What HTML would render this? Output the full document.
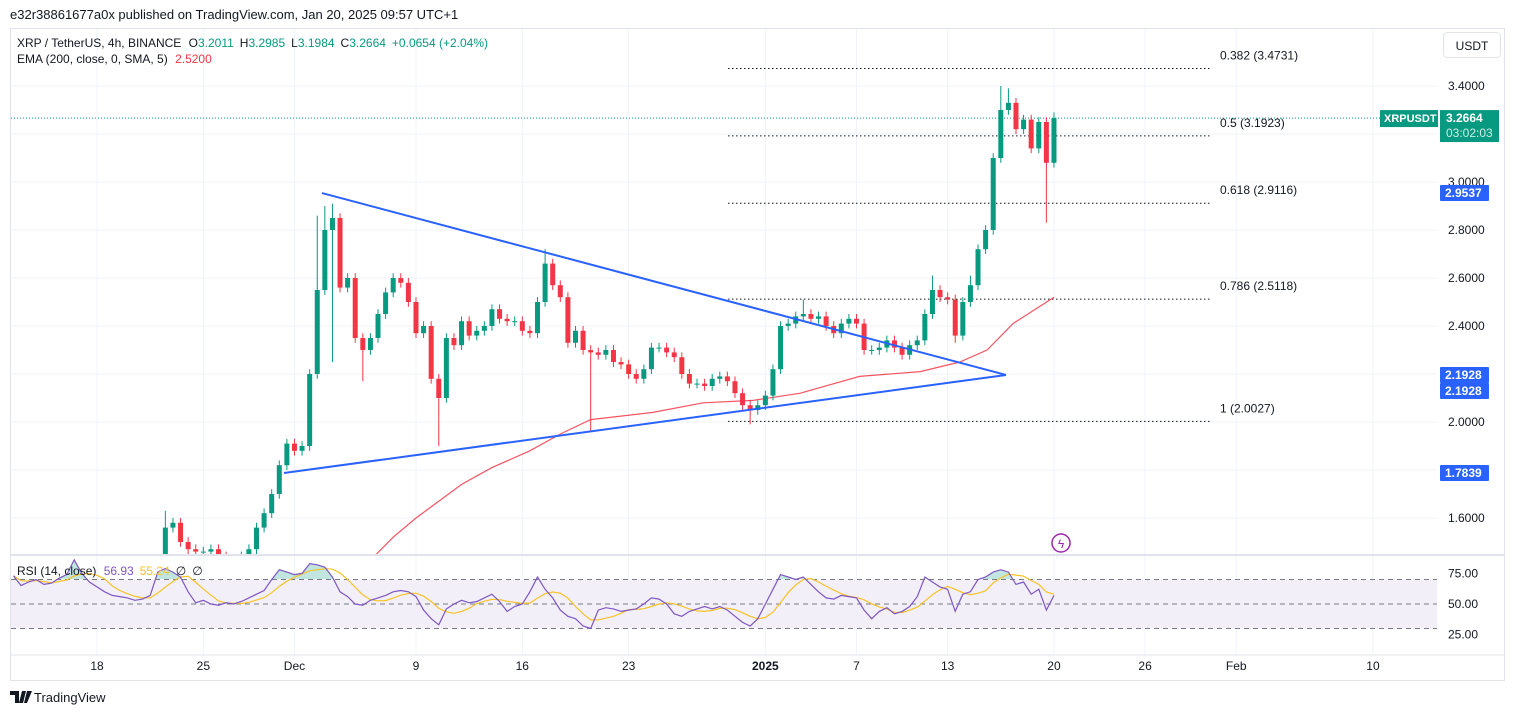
<!DOCTYPE html>
<html><head><meta charset="utf-8">
<style>
body{margin:0;background:#fff;width:1515px;height:715px;overflow:hidden;font-family:"Liberation Sans",sans-serif;}
svg{display:block}
text{font-family:"Liberation Sans",sans-serif;}
</style></head>
<body>
<svg id="chart" width="1515" height="715" viewBox="0 0 1515 715" xmlns="http://www.w3.org/2000/svg">
<text x="10" y="19" font-size="13" fill="#131722">e32r38861677a0x published on TradingView.com, Jan 20, 2025 09:57 UTC+1</text>
<rect x="10.5" y="28.5" width="1494" height="652" fill="#fff" stroke="#e0e3eb"/>
<g id="grid"></g>
<g id="rsiPane"></g>
<g id="main" clip-path="url(#mainClip)"></g>
<defs>
<clipPath id="mainClip"><rect x="11" y="29" width="1426" height="525"/></clipPath>
<clipPath id="rsiClip"><rect x="11" y="556" width="1426" height="98"/></clipPath>
<clipPath id="ob"><rect x="0" y="0" width="1515" height="579"/></clipPath>
</defs>
<line x1="10" y1="555" x2="1505" y2="555" stroke="#e0e3eb" stroke-width="2"/>
<line x1="10" y1="655" x2="1505" y2="655" stroke="#e0e3eb"/>
<g id="axes"></g>
<text x="17" y="47" font-size="12" fill="#131722">XRP / TetherUS, 4h, BINANCE <tspan dx="4">O</tspan><tspan fill="#089981">3.2011</tspan><tspan dx="6">H</tspan><tspan fill="#089981">3.2985</tspan><tspan dx="6">L</tspan><tspan fill="#089981">3.1984</tspan><tspan dx="6">C</tspan><tspan fill="#089981">3.2664</tspan><tspan dx="6" fill="#089981">+0.0654 (+2.04%)</tspan></text>
<text x="17" y="63" font-size="12" fill="#131722">EMA (200, close, 0, SMA, 5) <tspan dx="4" fill="#f23645">2.5200</tspan></text>
<text x="17" y="575" font-size="12" fill="#131722">RSI (14, close) <tspan dx="4" fill="#7e57c2">56.93</tspan><tspan dx="6" fill="#f7c325">55.24</tspan><tspan dx="6">∅</tspan><tspan dx="6">∅</tspan></text>
<rect x="1443.5" y="32.5" width="57" height="25" rx="4" fill="#fff" stroke="#e0e3eb"/>
<text x="1472" y="50" font-size="12" text-anchor="middle" fill="#131722">USDT</text>
<circle cx="1061" cy="543" r="9" fill="#fff" stroke="#9c27b0" stroke-width="1.5"/>
<text x="1061" y="548" font-size="12" text-anchor="middle" fill="#9c27b0">ϟ</text>
<g>
<path d="M10 691h9v12h-4v-8h-5z M22 691h4l-3 12h-4z M27 691h5l-5 12h-3z" fill="#131722"/>
<text x="34" y="702" font-size="13" fill="#131722">TradingView</text>
</g>
</svg>
<script>
var candleT=[-5.5,-5,-4.5,-4,-3.5,-3,-2.5,-2,-1.5,-1,-0.5,0,0.5,1,1.5,2,2.5,3,3.5,4,4.5,5,5.5,6,6.5,7,7.5,8,8.5,9,9.5,10,10.5,11,11.5,12,12.5,13,13.5,14,14.5,15,15.5,16,16.5,17,17.5,18,18.5,19,19.5,20,20.5,21,21.5,22,22.5,23,23.5,24,24.5,25,25.5,26,26.5,27,27.5,28,28.5,29,29.5,30,30.5,31,31.5,32,32.5,33,33.5,34,34.5,35,35.5,36,36.5,37,37.5,38,38.5,39,39.5,40,40.5,41,41.5,42,42.5,43,43.5,44,44.5,45,45.5,46,46.5,47,47.5,48,48.5,49,49.5,50,50.5,51,51.5,52,52.5,53,53.5,54,54.5,55,55.5,56,56.5,57,57.5,58,58.5,59,59.5,60,60.5,61,61.5,62,62.5,63];
var closes=[1.15,1.12,1.10,1.13,1.12,1.15,1.18,1.14,1.10,1.08,1.11,1.14,1.16,1.20,1.25,1.30,1.36,1.40,1.38,1.42,
1.56,1.58,1.50,1.47,1.46,1.46,1.47,1.44,1.43,1.42,1.44,1.47,1.56,1.62,1.70,1.82,1.91,1.88,1.90,2.20,2.55,2.80,2.85,2.56,2.60,2.35,2.30,2.35,2.45,2.54,2.60,2.58,2.50,2.37,2.40,2.18,2.10,2.35,2.32,2.42,2.36,2.38,2.40,2.47,2.43,2.42,2.42,2.38,2.37,2.50,2.66,2.57,2.52,2.33,2.38,2.30,2.29,2.28,2.30,2.25,2.24,2.20,2.18,2.22,2.31,2.31,2.29,2.27,2.20,2.16,2.16,2.15,2.18,2.19,2.17,2.12,2.07,2.05,2.07,2.11,2.22,2.40,2.41,2.44,2.45,2.43,2.44,2.40,2.37,2.41,2.43,2.41,2.30,2.30,2.31,2.34,2.31,2.28,2.32,2.34,2.45,2.55,2.52,2.51,2.36,2.50,2.57,2.72,2.80,3.10,3.30,3.33,3.22,3.26,3.14,3.25,3.08,3.2664];
var wickHighT=[4.5,14.5,15.0,15.5,29.5,46.5,55.0,57.5,59.5,60.0,63];
var wickHighV=[1.63,2.86,2.90,2.91,2.72,2.51,2.61,2.61,3.40,3.39,3.29];
var wickLowT=[15.5,17.5,22.5,32.5,43.0,56.5,62.5];
var wickLowV=[2.25,2.17,1.90,1.96,1.99,2.33,2.83];
var emaT=[17.0,18.4,19.5,21.0,24.0,26.0,28.5,30.5,32.5,36.6,39.9,43.2,46.3,50.2,54.2,56.8,58.6,60.3,63.0];
var emaV=[1.40,1.45,1.52,1.60,1.74,1.81,1.88,1.95,2.01,2.04,2.08,2.09,2.12,2.19,2.21,2.25,2.30,2.41,2.52];
var rsiValues=[73,65,68,70,66,67,71,74,86,75,68,64,60,57,56,55,53,54,57,76,79,76,72,60,51,53,50,49,51,50,52,55,58,61,70,78,76,74,75,83,82,80,72,60,56,50,49,53,55,57,60,61,60,56,45,38,33,46,50,53,51,52,55,58,
52,44,48,50,60,72,62,55,45,40,38,32,30,45,47,46,44,45,46,50,55,54,50,42,40,44,46,48,46,48,45,40,35,32,38,50,62,74,72,70,72,66,60,55,54,57,56,55,45,38,44,47,42,44,48,56,72,68,64,62,44,58,60,70,72,76,78,76,66,68,58,62,45,57];
var priceTicks=[1.6,1.8,2.0,2.2,2.4,2.6,2.8,3.0,3.2,3.4];
var priceTickLabels=["1.6000","1.8000","2.0000","2.2000","2.4000","2.6000","2.8000","3.0000","3.2000","3.4000"];
var dateTicks=[0,7,13,21,28,35,44,50,56,63,69,75,84];
var dateLabels=["18","25","Dec","9","16","23","2025","7","13","20","26","Feb","10"];
var fibLevels=[0.382,0.5,0.618,0.786,1];
var fibPrices=[3.4731,3.1923,2.9116,2.5118,2.0027];
var rsiTicks=[25,50,75];
var trendUpper=[[14.81,2.954],[59.84,2.196]];
var trendLower=[[12.31,1.7875],[59.84,2.196]];
var lastPrice=3.2664;

var NS="http://www.w3.org/2000/svg";
function X(t){return 97+15.19*t;}
function Y(p){return 422-(p-2)*240;}
function RY(r){return 604-(r-50)*1.225;}
function mk(tag,attrs,parent){var e=document.createElementNS(NS,tag);for(var k in attrs)e.setAttribute(k,attrs[k]);parent.appendChild(e);return e;}
var grid=document.getElementById('grid'),mainG=document.getElementById('main'),rp=document.getElementById('rsiPane'),axes=document.getElementById('axes');

dateTicks.forEach(function(t,i){
  var l=mk('line',{x1:X(t),x2:X(t),y1:29,y2:655,stroke:'#f0f3fa'},grid);
  
  
  var tx=mk('text',{x:X(t),y:670,'font-size':12,'text-anchor':'middle',fill:'#131722','font-weight':dateLabels[i]==='2025'?'bold':'normal'},axes);
  tx.textContent=dateLabels[i];
  
  
});
priceTicks.forEach(function(p,i){
  var l=mk('line',{x1:11,x2:1437,y1:Y(p),y2:Y(p),stroke:'#f0f3fa'},grid);
  
  
  var tx=mk('text',{x:1448,y:Y(p)+4,'font-size':12,fill:'#131722'},axes);
  tx.textContent=priceTickLabels[i];
  
  
});

var band=mk('rect',{x:11,y:RY(70),width:1426,height:RY(30)-RY(70),fill:'#f2eff9'},rp);


[70,50,30].forEach(function(v){
  var l=mk('line',{x1:11,x2:1437,y1:RY(v),y2:RY(v),stroke:'#787b86','stroke-dasharray':'5,4','stroke-width':1},rp);
  
  
});
rsiTicks.forEach(function(v){
  var tx=mk('text',{x:1448,y:RY(v)+4,'font-size':12,fill:'#131722'},axes);
  tx.textContent=v.toFixed(2);
  
  
});
var rg=mk('g',{'clip-path':'url(#rsiClip)'},rp);
var rpts=rsiValues.map(function(v,i){return X(candleT[i]).toFixed(1)+','+RY(v).toFixed(1);});
var fill=mk('polygon',{points:X(candleT[0])+','+RY(70)+' '+rpts.join(' ')+' '+X(candleT[candleT.length-1])+','+RY(70),fill:'rgba(8,153,129,0.25)','clip-path':'url(#ob)'},rg);


var ma=[];for(var i=0;i<rsiValues.length;i++){var s=0,n=0;for(var j=Math.max(0,i-4);j<=i;j++){s+=rsiValues[j];n++;}ma.push(s/n);}
var mal=mk('polyline',{points:ma.map(function(v,i){return X(candleT[i]).toFixed(1)+','+RY(v).toFixed(1);}).join(' '),fill:'none',stroke:'#f7c325','stroke-width':1.2},rg);


var rl=mk('polyline',{points:rpts.join(' '),fill:'none',stroke:'#7e57c2','stroke-width':1.2},rg);



var lp=mk('line',{x1:11,x2:1437,y1:Y(lastPrice),y2:Y(lastPrice),stroke:'#089981','stroke-dasharray':'1,2'},mainG);


fibPrices.forEach(function(p,i){
  var l=mk('line',{x1:X(41.54),x2:X(73.4),y1:Y(p),y2:Y(p),stroke:'#131722','stroke-dasharray':'1.5,2.5'},mainG);
  
  
  var tx=mk('text',{x:1220,y:Y(p)-9,'font-size':12,fill:'#131722'},mainG);
  tx.textContent=fibLevels[i]+' ('+p.toFixed(4)+')';
  
  
});
var ema=mk('polyline',{points:emaT.map(function(t,i){return X(t).toFixed(1)+','+Y(emaV[i]).toFixed(1);}).join(' '),fill:'none',stroke:'#f23645','stroke-width':1.2,'stroke-opacity':0.85},mainG);


for(var k=0;k<closes.length;k++){
  var ct=candleT[k],c=closes[k],o=k>0?closes[k-1]:c*0.99;
  var hi=Math.max(o,c)+0.02,lo=Math.min(o,c)-0.02;
  var hIdx=wickHighT.indexOf(ct);if(hIdx>=0)hi=wickHighV[hIdx];
  var lIdx=wickLowT.indexOf(ct);if(lIdx>=0)lo=wickLowV[lIdx];
  var col=c>=o?'#089981':'#f23645';var cx=X(ct);
  var cg=mk('g',{},mainG);
  
  
  mk('line',{x1:cx,x2:cx,y1:Y(hi),y2:Y(lo),stroke:col,'stroke-width':1},cg);
  var bTop=Y(Math.max(o,c)),bh=Math.max(1,Math.abs(Y(o)-Y(c)));
  mk('rect',{x:cx-2.5,y:bTop,width:5,height:bh,fill:col},cg);
}
[trendUpper,trendLower].forEach(function(tl,i){
  var l=mk('line',{x1:X(tl[0][0]),y1:Y(tl[0][1]),x2:X(tl[1][0]),y2:Y(tl[1][1]),stroke:'#2962ff','stroke-width':2},mainG);
  
  
});

function box(y,w,label,bg,name){
  var g=mk('g',{},axes);
  
  
  mk('rect',{x:1440,y:y-8,width:w,height:16,fill:bg,rx:1},g);
  var tx=mk('text',{x:1445,y:y+4,'font-size':12,fill:'#fff','font-weight':'bold'},g);tx.textContent=label;
}
box(Y(trendUpper[0][1]),49,'2.9537','#2962ff','trend-upper-price-box');
box(Y(trendLower[1][1]),49,'2.1928','#2962ff','trend-end-price-box');
box(Y(trendLower[1][1])+16,49,'2.1928','#2962ff','trend-end-price-box-2');
box(Y(trendLower[0][1]),49,'1.7839','#2962ff','trend-start-price-box');
var pg=mk('g',{},axes);


mk('rect',{x:1380,y:Y(lastPrice)-8,width:58,height:17,fill:'#089981'},pg);
var s1=mk('text',{x:1384,y:Y(lastPrice)+4,'font-size':11,fill:'#fff','font-weight':'bold'},pg);s1.textContent='XRPUSDT';
mk('rect',{x:1440,y:Y(lastPrice)-8,width:59,height:32,fill:'#089981'},pg);
var s2=mk('text',{x:1446,y:Y(lastPrice)+4,'font-size':12,fill:'#fff','font-weight':'bold'},pg);s2.textContent=lastPrice.toFixed(4);
var s3=mk('text',{x:1446,y:Y(lastPrice)+19,'font-size':12,fill:'#cdeee7'},pg);s3.textContent='03:02:03';
</script>
</body></html>
